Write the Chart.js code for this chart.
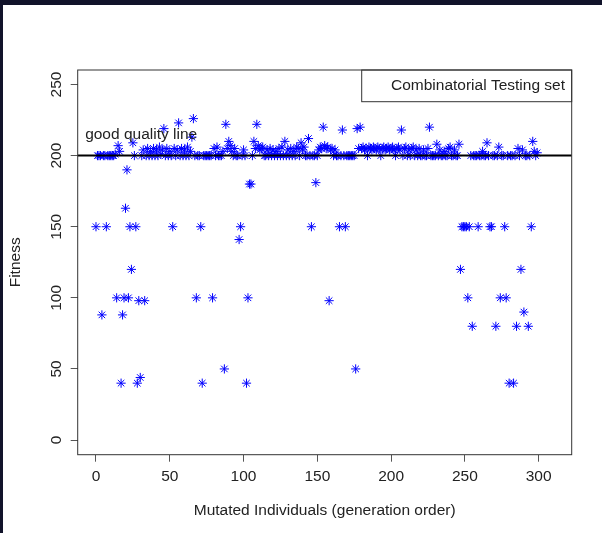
<!DOCTYPE html>
<html>
<head>
<meta charset="utf-8">
<script src="https://cdn.jsdelivr.net/npm/chart.js@4.4.1/dist/chart.umd.min.js"></script>
<style>
  html, body { margin: 0; padding: 0; background: #11132a; }
  #frame { position: absolute; left: 3px; top: 5px; width: 599px; height: 528px; background: #fff; }
  canvas { display: block; }
</style>
</head>
<body>
<div id="frame"><canvas id="fitnessChart" width="599" height="528"></canvas></div>
<script>
// Valeurs de fitness (index = ordre de génération)
const fitness = [
  150, 200, 200, 200, 88, 200, 200, 150, 200, 200,
  200, 200, 200, 201, 100, 207, 203, 40, 88, 100,
  163, 190, 100, 150, 120, 209, 200, 150, 40, 98,
  44, 200, 204, 98, 200, 205, 200, 203, 200, 205,
  200, 204, 200, 206, 201, 204, 219, 200, 205, 200,
  203, 200, 150, 205, 200, 204, 223, 200, 205, 200,
  204, 200, 206, 200, 203, 213, 226, 200, 100, 200,
  200, 150, 40, 200, 200, 200, 200, 200, 200, 100,
  205, 200, 206, 200, 200, 200, 203, 50, 222, 205,
  210, 207, 203, 200, 205, 200, 200, 141, 150, 200,
  204, 200, 40, 100, 180, 180, 200, 210, 205, 222,
  207, 204, 205, 206, 200, 200, 204, 200, 205, 200,
  204, 200, 203, 200, 205, 200, 206, 200, 210, 200,
  204, 200, 205, 200, 203, 200, 206, 205, 200, 209,
  204, 206, 200, 200, 212, 200, 150, 200, 200, 181,
  200, 204, 206, 205, 220, 207, 205, 206, 98, 204,
  205, 200, 204, 200, 200, 150, 200, 218, 200, 150,
  200, 200, 200, 200, 200, 200, 50, 219, 205, 220,
  205, 206, 204, 205, 200, 206, 205, 204, 206, 205,
  204, 206, 205, 200, 205, 206, 204, 205, 206, 204,
  205, 206, 204, 200, 205, 206, 204, 218, 200, 205,
  206, 200, 204, 200, 205, 206, 200, 204, 200, 205,
  200, 200, 204, 200, 200, 205, 220, 200, 200, 200,
  200, 208, 200, 204, 200, 200, 203, 200, 200, 205,
  206, 200, 200, 204, 200, 200, 208, 120, 150, 150,
  150, 150, 100, 150, 200, 80, 200, 200, 200, 150,
  200, 200, 203, 200, 200, 209, 200, 150, 150, 200,
  200, 80, 200, 206, 100, 200, 200, 150, 100, 200,
  40, 200, 200, 40, 200, 80, 205, 200, 120, 204,
  90, 200, 200, 80, 200, 150, 210, 203, 200, 202
];
const xTicks = [0, 50, 100, 150, 200, 250, 300];
const yTicks = [0, 50, 100, 150, 200, 250];
const goodQuality = 200;
const goodLabel = 'good quality line';
const legendLabel = 'Combinatorial Testing set';

const FONT = '"Liberation Sans", Arial, sans-serif';
const TEXT = '#222';

// Ligne de qualité, texte, légende et cadre
const annotations = {
  id: 'annotations',
  afterDatasetsDraw(chart) {
    const { ctx, chartArea: a, scales: { x, y } } = chart;
    ctx.save();

    const yy = y.getPixelForValue(goodQuality);
    ctx.strokeStyle = '#000';
    ctx.lineWidth = 2;
    ctx.beginPath();
    ctx.moveTo(a.left, yy);
    ctx.lineTo(a.right, yy);
    ctx.stroke();

    ctx.font = '15.5px ' + FONT;
    ctx.fillStyle = TEXT;
    ctx.textAlign = 'center';
    ctx.textBaseline = 'middle';
    ctx.fillText(goodLabel, x.getPixelForValue(30.6), y.getPixelForValue(215));

    // légende en haut à droite
    const lw = 210, lh = 31.7;
    ctx.fillStyle = '#fff';
    ctx.fillRect(a.right - lw, a.top, lw, lh);
    ctx.strokeStyle = '#333';
    ctx.lineWidth = 1;
    ctx.strokeRect(a.right - lw, a.top, lw, lh);
    ctx.fillStyle = TEXT;
    ctx.textAlign = 'right';
    ctx.fillText(legendLabel, a.right - 6.7, a.top + lh / 2);

    ctx.strokeStyle = '#333';
    ctx.strokeRect(a.left, a.top, a.right - a.left, a.bottom - a.top);
    ctx.restore();
  }
};

const fitnessChart = new Chart(document.getElementById('fitnessChart').getContext('2d'), {
  type: 'scatter',
  data: {
    datasets: [{
      label: legendLabel,
      data: fitness.map((v, i) => ({ x: i, y: v })),
      pointStyle: 'star',
      pointRadius: 4.6,
      borderColor: '#0000ff',
      backgroundColor: '#0000ff',
      borderWidth: 1
    }]
  },
  options: {
    responsive: false,
    animation: false,
    layout: { padding: { top: 65, right: 30.3, bottom: 0, left: 0 } },
    plugins: { legend: { display: false }, tooltip: { enabled: false } },
    scales: {
      x: {
        type: 'linear',
        min: -12.4,
        max: 322.4,
        afterBuildTicks: s => { s.ticks = xTicks.map(v => ({ value: v })); },
        afterFit: s => { s.height = 78.3; },
        grid: { drawOnChartArea: false, tickLength: 7, color: '#555' },
        border: { display: false },
        ticks: { padding: 6, color: TEXT, maxRotation: 0, font: { family: FONT, size: 15.5 } },
        title: {
          display: true,
          text: 'Mutated Individuals (generation order)',
          color: TEXT,
          padding: { top: 0, bottom: 12.7 },
          font: { family: FONT, size: 15.5 }
        }
      },
      y: {
        type: 'linear',
        min: -10.3,
        max: 260.2,
        afterBuildTicks: s => { s.ticks = yTicks.map(v => ({ value: v })); },
        afterFit: s => { s.width = 74.7; },
        grid: { drawOnChartArea: false, tickLength: 7, color: '#555' },
        border: { display: false },
        ticks: {
          minRotation: 90,
          maxRotation: 90,
          crossAlign: 'center',
          padding: 1.5,
          color: TEXT,
          font: { family: FONT, size: 15.5 }
        },
        title: {
          display: true,
          text: 'Fitness',
          color: TEXT,
          padding: { top: 3.7, bottom: 0 },
          font: { family: FONT, size: 15.5 }
        }
      }
    }
  },
  plugins: [annotations]
});
</script>
</body>
</html>
